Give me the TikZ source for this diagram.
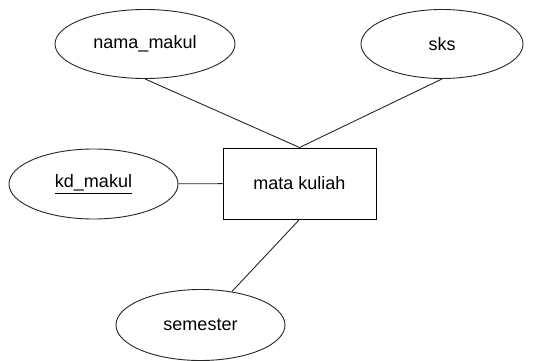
\documentclass[tikz,border=0pt]{standalone}
\usepackage{fontspec}
\setmainfont{Liberation Sans}
\usetikzlibrary{
    positioning,
    shapes.geometric
}

\begin{document}
\begin{tikzpicture}[
    x=1pt, y=-1pt,
    font=\fontsize{18}{20}\selectfont,
    attribute/.style={
        ellipse,
        draw=black!85,
        line width=0.9pt,
        inner sep=0pt,
        minimum height=69pt,
        fill=white
    },
    entity/.style={
        rectangle,
        draw=black,
        line width=1pt,
        minimum width=153pt,
        minimum height=71pt,
        fill=white
    },
    link/.style={
        line width=0.9pt,
        draw=black!85
    }
]
\useasboundingbox (0,0) rectangle (546,361);

% =========================================================
% Entity and attributes
% =========================================================
\node[entity] (matakuliah) at (299.5,183.5) {mata kuliah};

\node[attribute, minimum width=180pt] (namamakul) at (145,44) {nama\_makul};
\node[attribute, minimum width=162pt] (sks) at (442,44) {sks};
\node[attribute, minimum width=169pt, minimum height=70pt] (kdmakul) at (93.5,184) {\underline{kd\_makul}};
\node[attribute, minimum width=169pt, minimum height=71pt] (semester) at (200.5,325) {semester};

% =========================================================
% Relations
% =========================================================
\draw[link] (namamakul.south) -- (matakuliah.north);
\draw[link] (sks.south) -- (matakuliah.north);
\draw[link] (kdmakul) -- (matakuliah);
\draw[link] (matakuliah.south) -- (semester);

\end{tikzpicture}
\end{document}
